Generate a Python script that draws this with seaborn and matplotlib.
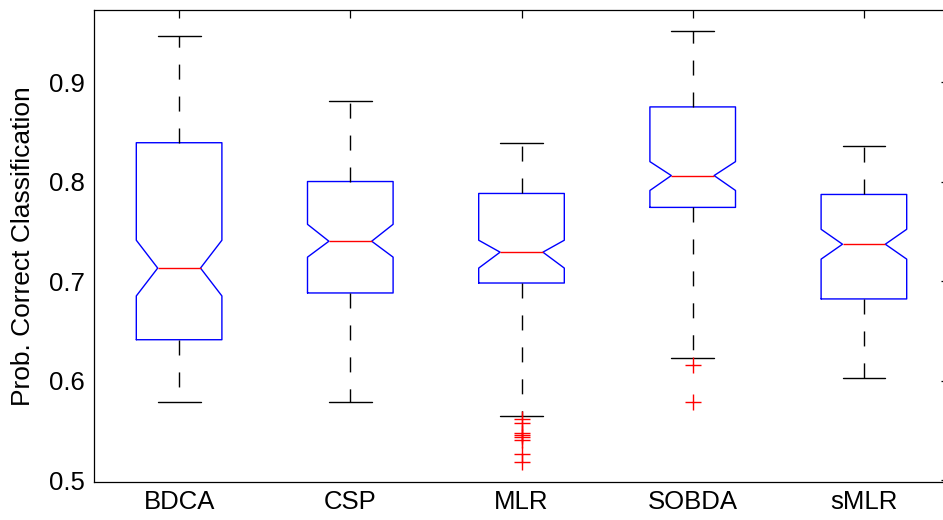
import matplotlib
matplotlib.use("Agg")
import matplotlib.pyplot as plt
import seaborn as sns
import pandas as pd

# ---- data ----
categories = ["BDCA", "CSP", "MLR", "SOBDA", "sMLR"]
whisker_low = [0.578, 0.578, 0.564, 0.623, 0.603]
quartile1 = [0.641, 0.688, 0.698, 0.774, 0.682]
medians = [0.713, 0.740, 0.729, 0.806, 0.737]
quartile3 = [0.839, 0.800, 0.788, 0.875, 0.787]
whisker_high = [0.946, 0.881, 0.839, 0.951, 0.836]
notch_low = [0.685, 0.724, 0.713, 0.791, 0.722]
notch_high = [0.741, 0.757, 0.741, 0.820, 0.752]
outlier_groups = ["MLR"] * 8 + ["SOBDA"] * 2
outlier_values = [0.561, 0.557, 0.547, 0.545, 0.543, 0.540, 0.526, 0.518,
                  0.616, 0.578]
ytick_values = [0.5, 0.6, 0.7, 0.8, 0.9]
ytick_labels = ["0.5", "0.6", "0.7", "0.8", "0.9"]
ylabel_text = "Prob. Correct Classification"

sns.set_style("white")
plt.rcParams["font.family"] = ["Liberation Sans", "DejaVu Sans"]
plt.rcParams["lines.scale_dashes"] = False
plt.rcParams["axes.labelcolor"] = "black"
plt.rcParams["text.color"] = "black"

fig = plt.figure(figsize=(9.43, 5.2), dpi=100)
ax = fig.add_axes([93.5 / 943, 38 / 520, 856 / 943, 472 / 520])

stats = []
for i, name in enumerate(categories):
    stats.append(dict(label=name, whislo=whisker_low[i], q1=quartile1[i],
                      med=medians[i], q3=quartile3[i], whishi=whisker_high[i],
                      cilo=notch_low[i], cihi=notch_high[i], fliers=[]))

lw = 1.0
ax.bxp(stats, positions=range(len(categories)), widths=0.5,
       shownotches=True, showfliers=False, manage_ticks=False,
       boxprops=dict(color="#0000ff", linewidth=lw),
       medianprops=dict(color="#ff0000", linewidth=lw),
       whiskerprops=dict(color="black", linewidth=lw,
                         linestyle=(0, (10.8, 12.2))),
       capprops=dict(color="black", linewidth=lw),
       zorder=2)

out_df = pd.DataFrame({"group": outlier_groups, "value": outlier_values})
sns.stripplot(data=out_df, x="group", y="value", order=categories,
              jitter=False, marker="+", color="#ff0000", size=11.5,
              linewidth=1.0, ax=ax, zorder=3)

ax.set_xlim(-0.5, len(categories) - 0.5)
ax.set_ylim(0.498, 0.9724)
ax.set_yticks(ytick_values)
ax.set_yticklabels(ytick_labels)
ax.set_xticks(range(len(categories)))
ax.set_xticklabels(categories)
ax.set_xlabel("")
ax.set_ylabel(ylabel_text, fontsize=19, color="black")
ax.yaxis.set_label_coords(-0.068, 0.5)

for s in ax.spines.values():
    s.set_visible(True)
    s.set_color("black")
    s.set_linewidth(0.9)

ax.tick_params(axis="both", direction="in", length=5.8, width=0.9,
               colors="black", labelsize=18.5, top=True, right=True,
               pad=6)
ax.grid(False)

fig.savefig("out.png", dpi=100)
